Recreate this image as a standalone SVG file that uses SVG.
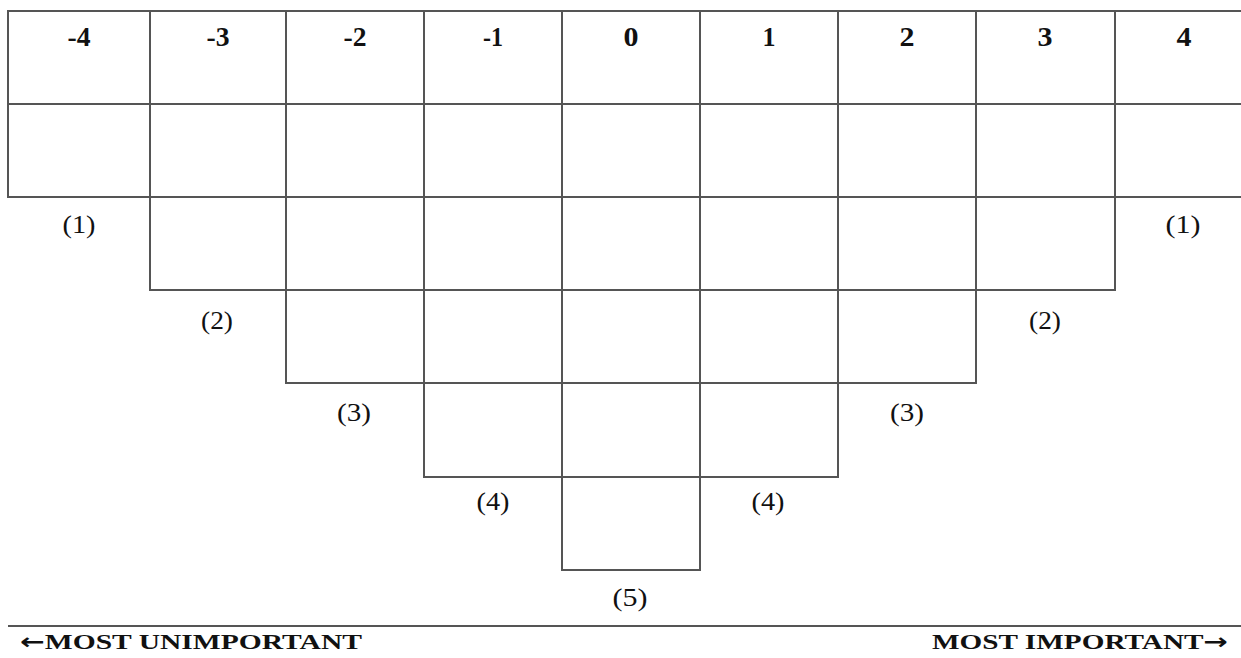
<svg xmlns="http://www.w3.org/2000/svg" width="1241" height="658" viewBox="0 0 1241 658">
<style>
.c{fill:#fff;stroke:#555;stroke-width:2}
.h{font-family:"Liberation Serif","Times New Roman",serif;font-weight:bold;font-size:28px;fill:#111;text-anchor:middle}
.l{font-family:"Liberation Serif","Times New Roman",serif;font-size:26px;fill:#111;text-anchor:middle}
.b{font-family:"Liberation Serif","Times New Roman",serif;font-weight:bold;font-size:22px;fill:#111}
.a{font-family:"DejaVu Sans",sans-serif;font-weight:bold}
</style>
<rect width="1241" height="658" fill="#fff"/>
<g id="col-m4">
<rect class="c" x="8" y="11" width="142" height="93"/>
<rect class="c" x="8" y="104" width="142" height="93"/>
<text class="h" x="79" y="46" textLength="23" lengthAdjust="spacingAndGlyphs">-4</text>
<text class="l" x="79" y="233" textLength="33" lengthAdjust="spacingAndGlyphs">(1)</text>
</g>
<g id="col-m3">
<rect class="c" x="150" y="11" width="136" height="93"/>
<rect class="c" x="150" y="104" width="136" height="93"/>
<rect class="c" x="150" y="197" width="136" height="93"/>
<text class="h" x="218" y="46" textLength="23" lengthAdjust="spacingAndGlyphs">-3</text>
<text class="l" x="217" y="329" textLength="32" lengthAdjust="spacingAndGlyphs">(2)</text>
</g>
<g id="col-m2">
<rect class="c" x="286" y="11" width="138" height="93"/>
<rect class="c" x="286" y="104" width="138" height="93"/>
<rect class="c" x="286" y="197" width="138" height="93"/>
<rect class="c" x="286" y="290" width="138" height="93"/>
<text class="h" x="355" y="46" textLength="23" lengthAdjust="spacingAndGlyphs">-2</text>
<text class="l" x="354" y="421" textLength="34" lengthAdjust="spacingAndGlyphs">(3)</text>
</g>
<g id="col-m1">
<rect class="c" x="424" y="11" width="138" height="93"/>
<rect class="c" x="424" y="104" width="138" height="93"/>
<rect class="c" x="424" y="197" width="138" height="93"/>
<rect class="c" x="424" y="290" width="138" height="93"/>
<rect class="c" x="424" y="383" width="138" height="94"/>
<text class="h" x="493" y="46" textLength="20" lengthAdjust="spacingAndGlyphs">-1</text>
<text class="l" x="493" y="510" textLength="33" lengthAdjust="spacingAndGlyphs">(4)</text>
</g>
<g id="col-0">
<rect class="c" x="562" y="11" width="138" height="93"/>
<rect class="c" x="562" y="104" width="138" height="93"/>
<rect class="c" x="562" y="197" width="138" height="93"/>
<rect class="c" x="562" y="290" width="138" height="93"/>
<rect class="c" x="562" y="383" width="138" height="94"/>
<rect class="c" x="562" y="477" width="138" height="93"/>
<text class="h" x="631" y="46" textLength="15" lengthAdjust="spacingAndGlyphs">0</text>
<text class="l" x="630" y="606" textLength="35" lengthAdjust="spacingAndGlyphs">(5)</text>
</g>
<g id="col-p1">
<rect class="c" x="700" y="11" width="138" height="93"/>
<rect class="c" x="700" y="104" width="138" height="93"/>
<rect class="c" x="700" y="197" width="138" height="93"/>
<rect class="c" x="700" y="290" width="138" height="93"/>
<rect class="c" x="700" y="383" width="138" height="94"/>
<text class="h" x="769" y="46" textLength="13" lengthAdjust="spacingAndGlyphs">1</text>
<text class="l" x="768" y="510" textLength="33" lengthAdjust="spacingAndGlyphs">(4)</text>
</g>
<g id="col-p2">
<rect class="c" x="838" y="11" width="138" height="93"/>
<rect class="c" x="838" y="104" width="138" height="93"/>
<rect class="c" x="838" y="197" width="138" height="93"/>
<rect class="c" x="838" y="290" width="138" height="93"/>
<text class="h" x="907" y="46" textLength="15" lengthAdjust="spacingAndGlyphs">2</text>
<text class="l" x="907" y="421" textLength="34" lengthAdjust="spacingAndGlyphs">(3)</text>
</g>
<g id="col-p3">
<rect class="c" x="976" y="11" width="139" height="93"/>
<rect class="c" x="976" y="104" width="139" height="93"/>
<rect class="c" x="976" y="197" width="139" height="93"/>
<text class="h" x="1045" y="46" textLength="15" lengthAdjust="spacingAndGlyphs">3</text>
<text class="l" x="1045" y="329" textLength="32" lengthAdjust="spacingAndGlyphs">(2)</text>
</g>
<g id="col-p4">
<rect class="c" x="1115" y="11" width="140" height="93"/>
<rect class="c" x="1115" y="104" width="140" height="93"/>
<text class="h" x="1184" y="46" textLength="15" lengthAdjust="spacingAndGlyphs">4</text>
<text class="l" x="1183" y="233" textLength="35" lengthAdjust="spacingAndGlyphs">(1)</text>
</g>
<g id="footer">
<line x1="8" y1="626" x2="1241" y2="626" stroke="#555" stroke-width="2"/>
<text class="b" x="20" y="649" textLength="342" lengthAdjust="spacingAndGlyphs"><tspan class="a">←</tspan>MOST UNIMPORTANT</text>
<text class="b" x="932" y="649" textLength="296" lengthAdjust="spacingAndGlyphs">MOST IMPORTANT<tspan class="a">→</tspan></text>
</g>
</svg>
